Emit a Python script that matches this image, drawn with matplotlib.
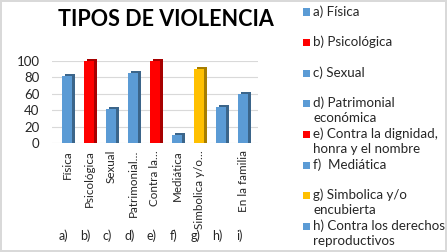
import matplotlib.pyplot as plt
from matplotlib.patches import Rectangle
from matplotlib.colors import to_rgb
from matplotlib.transforms import blended_transform_factory

plt.rcParams['font.family'] = ['Lato', 'DejaVu Sans']

# data
letters = ['a)', 'b)', 'c)', 'd)', 'e)', 'f)', 'g)', 'h)', 'i)']
tick_labels = ['Física', 'Psicológica', 'Sexual', 'Patrimonial…', 'Contra la…',
               'Mediática', 'Simbolica y/o…', '', 'En la familia']
values = [82, 100, 42, 85, 100, 10, 90, 44, 60]
bar_colors = ['#5B9BD5', '#FF0000', '#5B9BD5', '#5B9BD5', '#FF0000',
              '#5B9BD5', '#FFC000', '#5B9BD5', '#5B9BD5']
legend_labels = ['a) Física', 'b) Psicológica', 'c) Sexual', 'd) Patrimonial\neconómica',
                 'e) Contra la dignidad,\nhonra y el nombre', 'f)  Mediática',
                 'g) Simbolica y/o\nencubierta', 'h) Contra los derechos\nreproductivos']
legend_colors = bar_colors[:8]


def darker(c, f=0.65):
    r, g, b = to_rgb(c)
    return (r * f, g * f, b * f)


W, H = 447, 252
fig = plt.figure(figsize=(W / 100, H / 100), dpi=100, linewidth=1.5, edgecolor='#D9D9D9')

# axes placed in pixel terms
ax = fig.add_axes([52 / W, (H - 143) / H, 206 / W, 82 / H])
x = list(range(len(values)))
ax.set_xlim(-0.68, len(values) - 1 + 0.68)
ax.set_ylim(0, 100)

# fake depth: darker block behind, front face on top
ax.bar([i + 0.13 for i in x], [v + 2.5 for v in values], width=0.45,
       color=[darker(c) for c in bar_colors], zorder=2, clip_on=False)
ax.bar(x, values, width=0.45, color=bar_colors, zorder=3, clip_on=False)

ax.set_yticks(range(0, 101, 20))
ax.yaxis.grid(True, color='#D9D9D9', linewidth=0.8, zorder=0)
ax.set_axisbelow(True)
for s in ax.spines.values():
    s.set_visible(False)
ax.tick_params(axis='y', length=0, labelsize=9.5, labelcolor='#262626', pad=9)
ax.set_xticks(x)
ax.set_xticklabels(tick_labels, rotation=90, fontsize=8.4, color='#262626')
ax.tick_params(axis='x', length=0, pad=5)

trans = blended_transform_factory(ax.transData, fig.transFigure)
for i, lt in enumerate(letters):
    ax.text(i - 0.15, (H - 236) / H, lt, transform=trans, ha='center', va='center',
            fontsize=9, color='#262626')

fig.text(166 / W, (H - 20) / H, 'TIPOS DE VIOLENCIA', ha='center', va='center',
         fontsize=15.5, fontweight='bold', color='black')

# legend, evenly spaced entries as in the source
for k, (lab, col) in enumerate(zip(legend_labels, legend_colors)):
    yp = 12 + k * 30.6
    fig.patches.append(Rectangle((303 / W, (H - yp - 3.5) / H), 7 / W, 7 / H,
                                 transform=fig.transFigure, facecolor=col, edgecolor='none'))
    fig.text(313 / W, (H - yp + 7) / H, lab, ha='left', va='top', fontsize=9.6,
             color='#262626', linespacing=1.3)

fig.savefig('out.png', dpi=100)
